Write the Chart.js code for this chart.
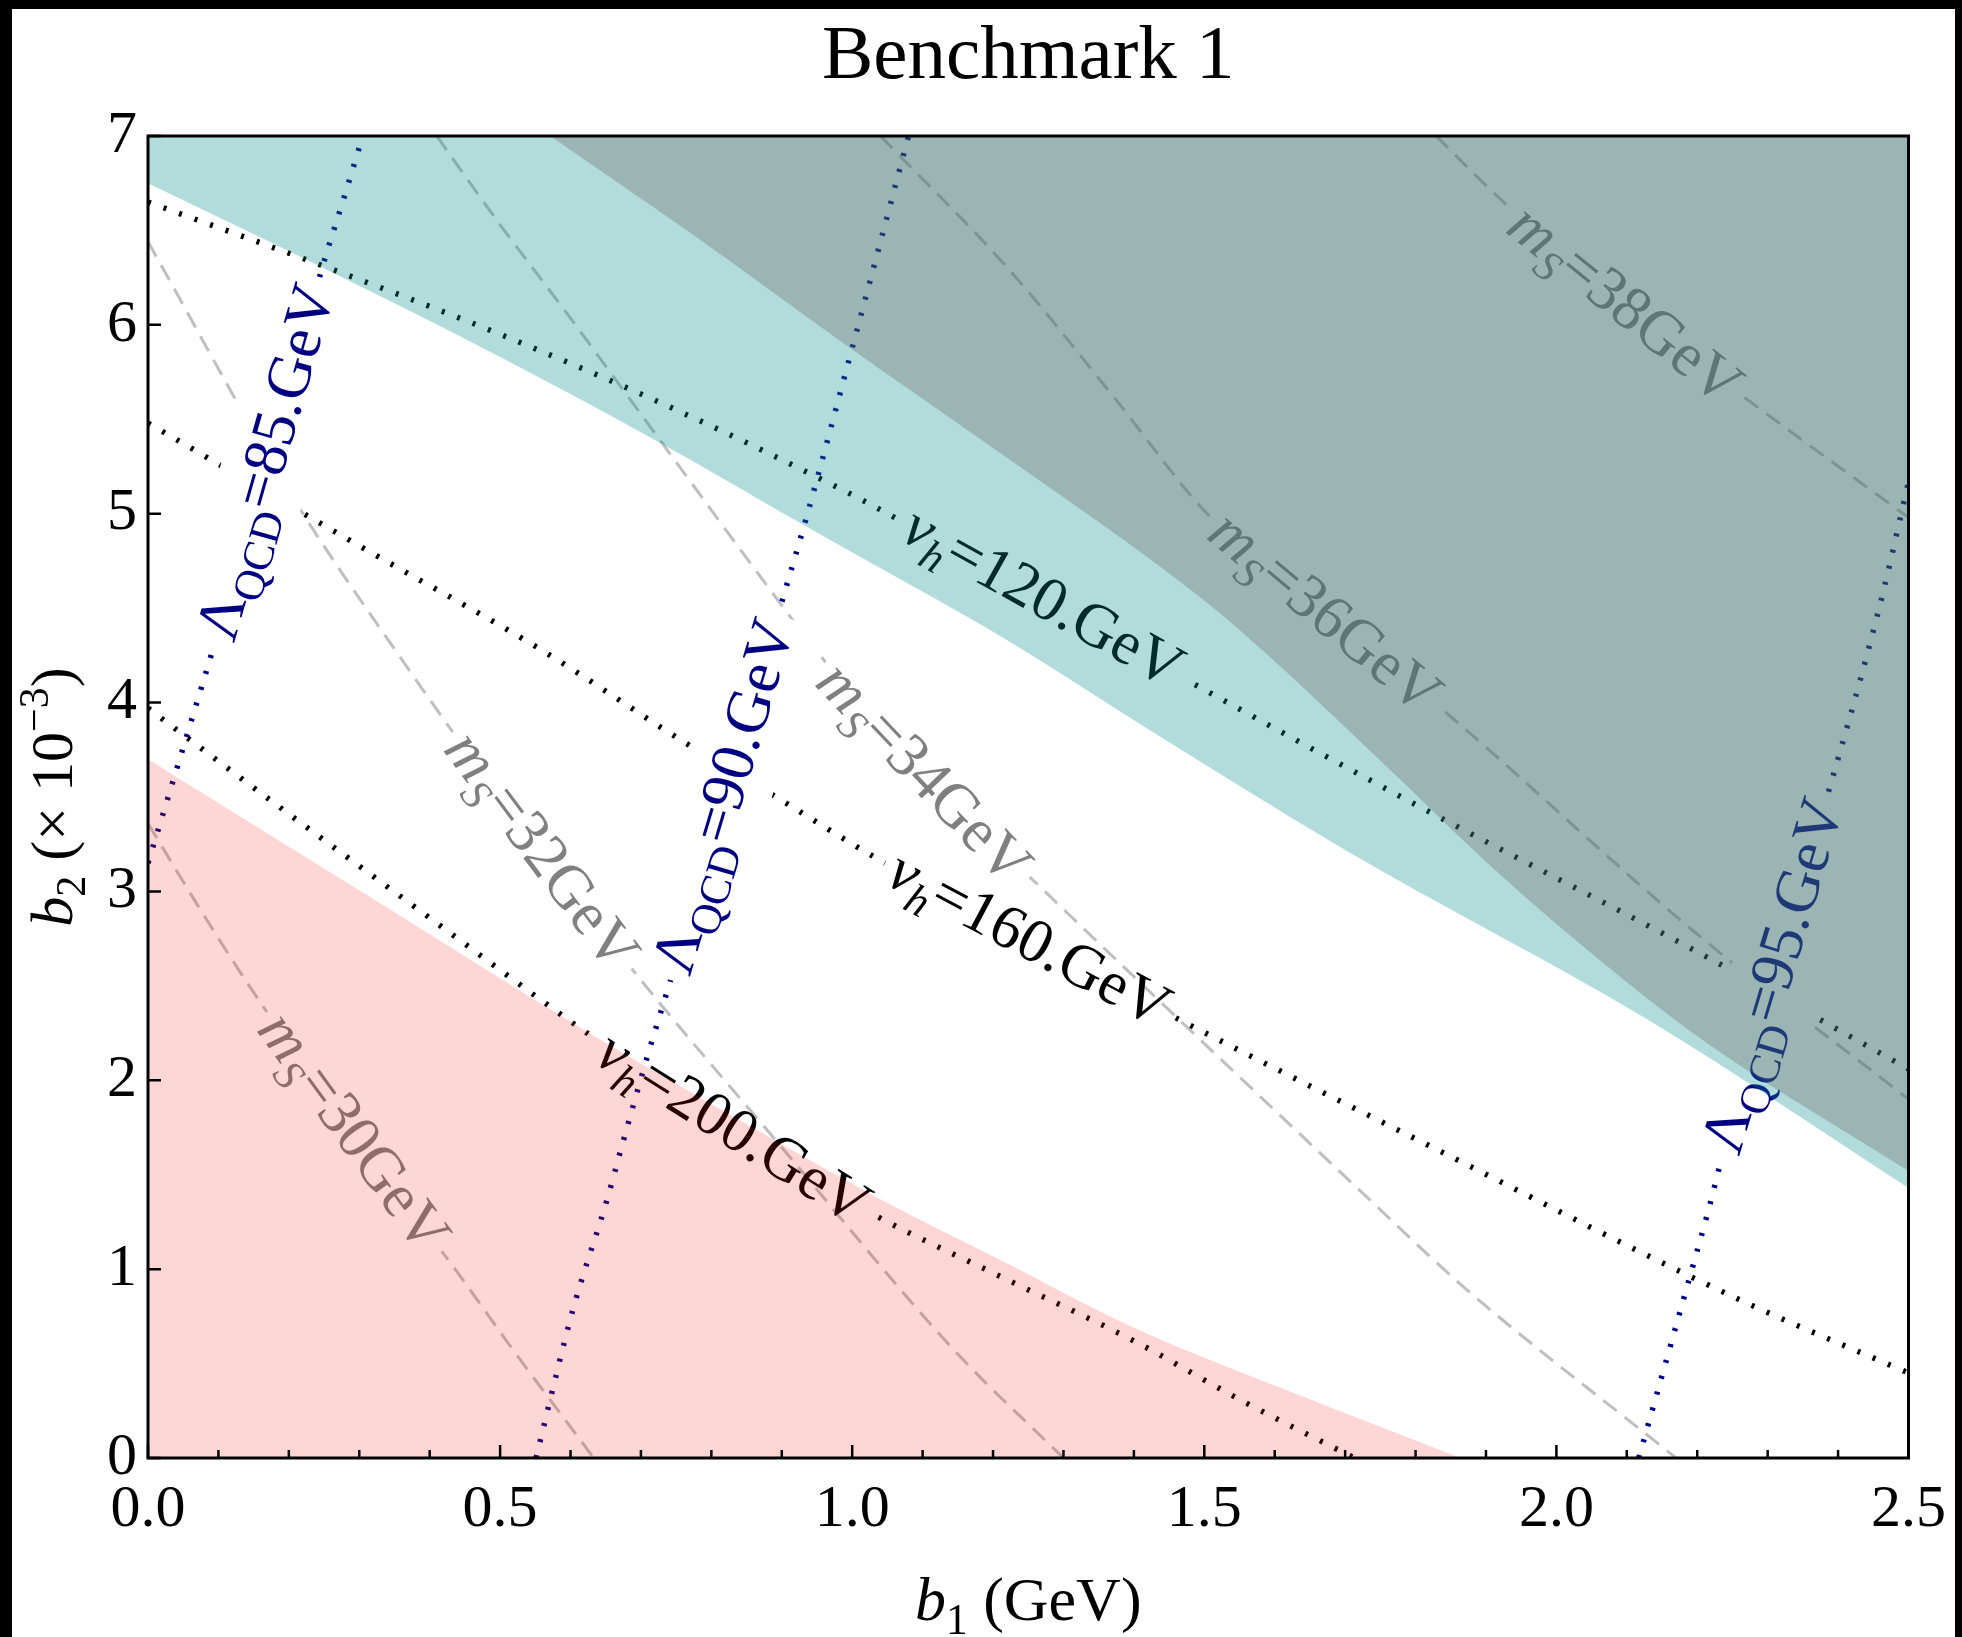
<!DOCTYPE html>
<html>
<head>
<meta charset="utf-8">
<title>Benchmark 1</title>
<script src="https://cdn.jsdelivr.net/npm/chart.js@4.4.1/dist/chart.umd.min.js"></script>
<style>
  html, body { margin: 0; padding: 0; background: #fff; overflow: hidden; }
  canvas { display: block; }
</style>
</head>
<body>
<canvas id="chart" width="1962" height="1637"></canvas>
<script>
// tick values
const xTicks = [0, 0.5, 1.0, 1.5, 2.0, 2.5];
const xMinorTicks = [0.1, 0.2, 0.3, 0.4, 0.6, 0.7, 0.8, 0.9, 1.1, 1.2, 1.3, 1.4, 1.6, 1.7, 1.8, 1.9, 2.1, 2.2, 2.3, 2.4];
const yTicks = [0, 1, 2, 3, 4, 5, 6, 7];

// shaded regions (boundary curves)
const pinkX = [0, 0.32, 0.64, 0.84, 1.04, 1.22, 1.40, 1.63, 1.864];
const pinkY = [3.70, 2.96, 2.22, 1.79, 1.37, 1.03, 0.69, 0.34, 0];
const tealX = [0, 0.233, 0.5, 0.725, 0.95, 1.22, 1.42, 1.7, 2.13, 2.5];
const tealY = [6.75, 6.33, 5.83, 5.38, 4.90, 4.33, 3.86, 3.22, 2.32, 1.43];
const greyX = [0.571, 0.769, 0.996, 1.207, 1.397, 1.523, 1.649, 1.776, 1.902, 2.028, 2.205, 2.5];
const greyY = [7.0, 6.49, 5.88, 5.33, 4.83, 4.47, 4.05, 3.60, 3.15, 2.74, 2.22, 1.52];

// v_h contours (black dotted)
const vh120X = [0, 0.25, 0.5, 0.75, 1.0, 1.07, 1.27, 1.47, 1.8, 2.2, 2.5];
const vh120Y = [6.65, 6.31, 5.95, 5.55, 5.10, 4.96, 4.55, 4.13, 3.46, 2.68, 2.06];
const vh160X = [0, 0.106, 0.3, 0.558, 0.766, 0.883, 1.037, 1.25, 1.465, 1.8, 2.259, 2.5];
const vh160Y = [5.48, 5.25, 4.83, 4.28, 3.78, 3.52, 3.17, 2.74, 2.32, 1.69, 0.84, 0.45];
const vh200X = [0, 0.2, 0.4, 0.635, 0.83, 1.03, 1.2, 1.4, 1.55, 1.713];
const vh200Y = [3.97, 3.41, 2.86, 2.22, 1.74, 1.29, 0.98, 0.62, 0.31, 0];

// Lambda_QCD contours (navy dotted)
const lam85X = [0, 0.045, 0.092, 0.13, 0.17, 0.21, 0.248, 0.278, 0.305];
const lam85Y = [3.15, 3.70, 4.28, 4.76, 5.27, 5.80, 6.31, 6.67, 7.0];
const lam90X = [0.551, 0.603, 0.652, 0.675, 0.711, 0.738, 0.78, 0.82, 0.86, 0.896, 0.935, 0.998, 1.08];
const lam90Y = [0, 0.78, 1.37, 1.68, 2.15, 2.48, 3.0, 3.5, 4.0, 4.48, 4.98, 5.85, 7.0];
const lam95X = [2.117, 2.188, 2.215, 2.235, 2.27, 2.31, 2.35, 2.392, 2.43, 2.465, 2.5];
const lam95Y = [0, 0.94, 1.30, 1.59, 2.07, 2.55, 3.07, 3.60, 4.10, 4.60, 5.17];

// m_S contours (grey dashed)
const ms30X = [0, 0.07, 0.142, 0.29, 0.44, 0.513, 0.633];
const ms30Y = [3.36, 2.93, 2.51, 1.72, 0.98, 0.60, 0];
const ms32X = [0, 0.2, 0.36, 0.557, 0.711, 0.892, 1.145, 1.3];
const ms32Y = [6.44, 5.12, 4.23, 3.21, 2.48, 1.68, 0.57, 0];
const ms34X = [0.41, 0.5, 0.589, 0.725, 0.887, 0.95, 1.1, 1.268, 1.38, 1.72, 1.87, 2.17];
const ms34Y = [7.0, 6.53, 6.09, 5.40, 4.58, 4.27, 3.62, 3.02, 2.62, 1.42, 0.90, 0];
const ms36X = [1.04, 1.221, 1.371, 1.504, 1.67, 1.839, 2.198, 2.5];
const ms36Y = [7.0, 6.30, 5.62, 5.00, 4.47, 3.96, 2.78, 1.90];
const ms38X = [1.829, 1.925, 2.096, 2.28, 2.5];
const ms38Y = [7.0, 6.65, 6.10, 5.58, 4.98];

const SERIF = '"Liberation Serif", "Times New Roman", serif';
const NAVY = '#000080';

function pts(xs, ys) {
	return xs.map((x, i) => ({ x: x, y: ys[i] }));
}

// contour line list: [id, xs, ys, kind]
const contourLines = [
	['vh120', vh120X, vh120Y, 'vh'],
	['vh160', vh160X, vh160Y, 'vh'],
	['vh200', vh200X, vh200Y, 'vh'],
	['lam85', lam85X, lam85Y, 'lam'],
	['lam90', lam90X, lam90Y, 'lam'],
	['lam95', lam95X, lam95Y, 'lam'],
	['ms30', ms30X, ms30Y, 'ms'],
	['ms32', ms32X, ms32Y, 'ms'],
	['ms34', ms34X, ms34Y, 'ms'],
	['ms36', ms36X, ms36Y, 'ms'],
	['ms38', ms38X, ms38Y, 'ms'],
];

// inline labels: line id, vertex index where the label sits, text parts
const contourLabels = [
	{ line: 'lam85', at: 4, parts: [{ t: 'Λ' }, { t: 'QCD', sub: true }, { t: '=85.GeV' }] },
	{ line: 'lam90', at: 7, parts: [{ t: 'Λ' }, { t: 'QCD', sub: true }, { t: '=90.GeV' }] },
	{ line: 'lam95', at: 5, parts: [{ t: 'Λ' }, { t: 'QCD', sub: true }, { t: '=95.GeV' }] },
	{ line: 'vh120', at: 6, parts: [{ t: 'v', it: true }, { t: 'h', it: true, sub: true }, { t: '=120.GeV' }] },
	{ line: 'vh160', at: 7, parts: [{ t: 'v', it: true }, { t: 'h', it: true, sub: true }, { t: '=160.GeV' }] },
	{ line: 'vh200', at: 4, parts: [{ t: 'v', it: true }, { t: 'h', it: true, sub: true }, { t: '=200.GeV' }] },
	{ line: 'ms30', at: 3, parts: [{ t: 'm', it: true }, { t: 'S', it: true, sub: true }, { t: '=30GeV' }] },
	{ line: 'ms32', at: 3, parts: [{ t: 'm', it: true }, { t: 'S', it: true, sub: true }, { t: '=32GeV' }] },
	{ line: 'ms34', at: 6, parts: [{ t: 'm', it: true }, { t: 'S', it: true, sub: true }, { t: '=34GeV' }] },
	{ line: 'ms36', at: 4, parts: [{ t: 'm', it: true }, { t: 'S', it: true, sub: true }, { t: '=36GeV' }] },
	{ line: 'ms38', at: 2, parts: [{ t: 'm', it: true }, { t: 'S', it: true, sub: true }, { t: '=38GeV' }] },
];

const lineStyle = {
	vh: { color: '#000000', width: 5.5, dash: [3, 13.5], text: '#000000' },
	lam: { color: NAVY, width: 5.5, dash: [3, 13.5], text: NAVY },
	ms: { color: 'rgba(128,128,128,0.5)', width: 3, dash: [17, 10], text: '#808080' },
};
const LABEL_SIZE = 62;

// datasets: fills first (drawn on top of lines, order 0), then lines
const datasets = [
	{ id: 'grey', data: pts(greyX, greyY), fill: 'end', backgroundColor: 'rgba(104,88,88,0.3)', order: 0 },
	{ id: 'teal', data: pts(tealX, tealY), fill: 'end', backgroundColor: 'rgba(0,139,139,0.3)', order: 0 },
	{ id: 'pink', data: pts(pinkX, pinkY), fill: 'start', backgroundColor: 'rgba(255,0,0,0.16)', order: 0 },
].map(d => Object.assign(d, { showLine: true, borderWidth: 0, borderColor: 'rgba(0,0,0,0)', pointRadius: 0, cubicInterpolationMode: 'monotone' }));
const firstLineIndex = datasets.length;
contourLines.forEach(function (l) {
	const st = lineStyle[l[3]];
	datasets.push({
		id: l[0], data: pts(l[1], l[2]), showLine: true, fill: false, pointRadius: 0,
		borderColor: st.color, borderWidth: st.width, borderDash: st.dash, borderCapStyle: 'butt',
		cubicInterpolationMode: 'monotone', order: 1,
	});
});

function fontFor(p, size) {
	const s = (p.sub || p.sup) ? size * 0.7 : size;
	return (p.it ? 'italic ' : '') + s + 'px ' + SERIF;
}
function richWidth(ctx, parts, size) {
	let w = 0;
	parts.forEach(p => { ctx.font = fontFor(p, size); w += ctx.measureText(p.t).width; });
	return w;
}
function drawRich(ctx, parts, x, y, size) {
	parts.forEach(p => {
		ctx.font = fontFor(p, size);
		const dy = p.sub ? size * 0.22 : (p.sup ? -size * 0.4 : 0);
		ctx.fillText(p.t, x, y + dy);
		x += ctx.measureText(p.t).width;
	});
}

function labelGeom(chart, lab) {
	const l = contourLines.find(c => c[0] === lab.line);
	const xs = chart.scales.x, ys = chart.scales.y;
	const n = l[1].length;
	const i0 = Math.max(lab.at - 1, 0), i1 = Math.min(lab.at + 1, n - 1);
	const ax = xs.getPixelForValue(l[1][i0]), ay = ys.getPixelForValue(l[2][i0]);
	const bx = xs.getPixelForValue(l[1][i1]), by = ys.getPixelForValue(l[2][i1]);
	return {
		cx: xs.getPixelForValue(l[1][lab.at]),
		cy: ys.getPixelForValue(l[2][lab.at]),
		ang: Math.atan2(by - ay, bx - ax),
		w: richWidth(chart.ctx, lab.parts, LABEL_SIZE),
		kind: l[3],
	};
}
function rectPath(ctx, g, hw, hh) {
	const c = Math.cos(g.ang), s = Math.sin(g.ang);
	const corners = [[-hw, -hh], [-hw, hh], [hw, hh], [hw, -hh]];
	corners.forEach((p, k) => {
		const x = g.cx + p[0] * c - p[1] * s;
		const y = g.cy + p[0] * s + p[1] * c;
		if (k === 0) ctx.moveTo(x, y); else ctx.lineTo(x, y);
	});
	ctx.closePath();
}

const contourPlugin = {
	id: 'contourLabels',
	beforeDraw(chart) {
		const ctx = chart.ctx;
		ctx.save();
		ctx.fillStyle = '#fff';
		ctx.fillRect(0, 0, chart.width, chart.height);
		ctx.restore();
	},
	beforeDatasetDraw(chart, args) {
		if (args.index < firstLineIndex) return;
		const id = datasets[args.index].id;
		const lab = contourLabels.find(lb => lb.line === id);
		const ctx = chart.ctx;
		ctx.save();
		if (!lab) return;
		const g = labelGeom(chart, lab);
		ctx.beginPath();
		ctx.rect(0, 0, chart.width, chart.height);
		rectPath(ctx, g, g.w / 2 + 8, LABEL_SIZE * 0.7);
		ctx.clip('evenodd');
	},
	afterDatasetDraw(chart, args) {
		if (args.index < firstLineIndex) return;
		const ctx = chart.ctx;
		ctx.restore();
		if (args.index !== firstLineIndex) return;
		// after the last contour line: erase under the Lambda labels, then write all labels
		const geoms = contourLabels.map(lb => labelGeom(chart, lb));
		ctx.save();
		ctx.fillStyle = '#fff';
		geoms.forEach(g => {
			if (g.kind !== 'lam') return;
			ctx.beginPath();
			rectPath(ctx, g, g.w / 2 + 6, LABEL_SIZE * 0.72);
			ctx.fill();
		});
		ctx.restore();
		contourLabels.forEach((lb, k) => {
			const g = geoms[k];
			ctx.save();
			ctx.translate(g.cx, g.cy);
			ctx.rotate(g.ang);
			ctx.fillStyle = lineStyle[g.kind].text;
			ctx.textBaseline = 'alphabetic';
			ctx.textAlign = 'left';
			drawRich(ctx, lb.parts, -g.w / 2, LABEL_SIZE * 0.28, LABEL_SIZE);
			ctx.restore();
		});
	},
	afterDraw(chart) {
		const ctx = chart.ctx;
		const a = chart.chartArea;
		const xs = chart.scales.x, ys = chart.scales.y;
		ctx.save();
		// inward ticks
		ctx.strokeStyle = '#000';
		ctx.lineWidth = 2.5;
		ctx.beginPath();
		xTicks.forEach(v => { const p = xs.getPixelForValue(v); ctx.moveTo(p, a.bottom); ctx.lineTo(p, a.bottom - 13); });
		xMinorTicks.forEach(v => { const p = xs.getPixelForValue(v); ctx.moveTo(p, a.bottom); ctx.lineTo(p, a.bottom - 8); });
		yTicks.forEach(v => { const p = ys.getPixelForValue(v); ctx.moveTo(a.left, p); ctx.lineTo(a.left + 13, p); });
		ctx.stroke();
		// frame
		ctx.lineWidth = 3;
		ctx.strokeRect(a.left, a.top, a.right - a.left, a.bottom - a.top);

		// title and axis titles
		ctx.fillStyle = '#000';
		ctx.textBaseline = 'alphabetic';
		ctx.textAlign = 'center';
		ctx.font = '77px ' + SERIF;
		ctx.fillText('Benchmark 1', (a.left + a.right) / 2, 78);

		ctx.textAlign = 'left';
		const xt = [{ t: 'b', it: true }, { t: '1', sub: true }, { t: ' (GeV)' }];
		const xw = richWidth(ctx, xt, 62);
		drawRich(ctx, xt, (a.left + a.right) / 2 - xw / 2, 1620, 62);

		const yt = [{ t: 'b', it: true }, { t: '2', sub: true }, { t: ' (× 10' }, { t: '−3', sup: true }, { t: ')' }];
		const yw = richWidth(ctx, yt, 60);
		ctx.translate(72, (a.top + a.bottom) / 2);
		ctx.rotate(-Math.PI / 2);
		drawRich(ctx, yt, -yw / 2, 0, 60);
		ctx.restore();

		// black edge of the picture
		ctx.save();
		ctx.fillStyle = '#000';
		ctx.fillRect(0, 0, 12, chart.height);
		ctx.fillRect(0, 0, chart.width, 9);
		ctx.fillRect(chart.width - 7, 0, 7, chart.height);
		ctx.restore();
	},
};

const tickFont = { family: SERIF, size: 60 };
new Chart(document.getElementById('chart'), {
	type: 'scatter',
	data: { datasets: datasets },
	options: {
		responsive: false,
		animation: false,
		devicePixelRatio: 1,
		layout: { padding: { left: 0, right: 49, top: 136, bottom: 0 } },
		plugins: { legend: { display: false }, tooltip: { enabled: false }, title: { display: false } },
		scales: {
			x: {
				type: 'linear', min: 0, max: 2.5,
				grid: { display: false, drawTicks: false },
				border: { display: false },
				afterFit: s => { s.height = 179; },
				afterBuildTicks: s => { s.ticks = xTicks.map(v => ({ value: v })); },
				ticks: { autoSkip: false, maxRotation: 0, padding: 16, color: '#000', font: tickFont, callback: v => Number(v).toFixed(1) },
			},
			y: {
				type: 'linear', min: 0, max: 7,
				grid: { display: false, drawTicks: false },
				border: { display: false },
				afterFit: s => { s.width = 148; },
				afterBuildTicks: s => { s.ticks = yTicks.map(v => ({ value: v })); },
				ticks: { autoSkip: false, padding: 11, color: '#000', font: tickFont, callback: v => String(v) },
			},
		},
	},
	plugins: [contourPlugin],
});
</script>
</body>
</html>
